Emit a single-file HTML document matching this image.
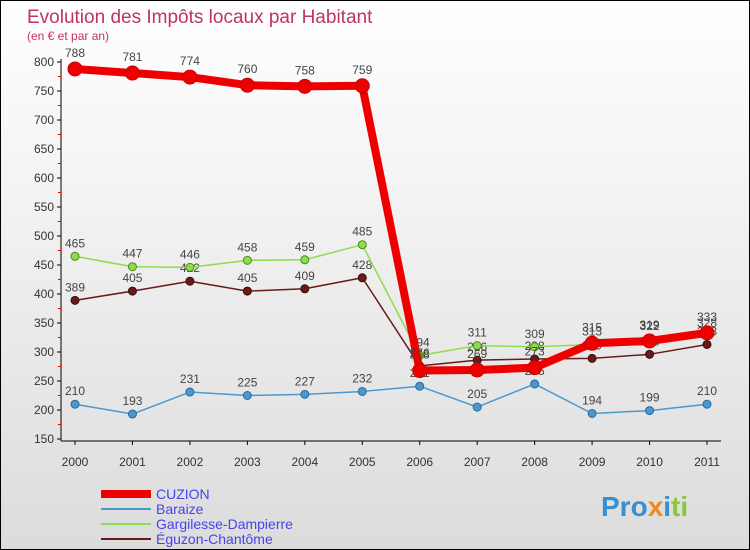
<!DOCTYPE html>
<html><head><meta charset="utf-8"><style>
body{margin:0}
#c{width:748px;height:548px;border:1px solid #000;background:linear-gradient(#fff,#dcdcdc);position:relative;font-family:"Liberation Sans",sans-serif;overflow:hidden}
</style></head><body>
<div id="c">
<svg id="s" width="748" height="548" font-family="Liberation Sans, sans-serif">
<text x="26" y="22" font-size="19" fill="#c0335f">Evolution des Impôts locaux par Habitant</text>
<text x="26" y="39" font-size="12" fill="#c0335f">(en € et par an)</text>
<text x="600" y="515" font-size="28" font-weight="bold" fill="#3a8fd0">Pro<tspan fill="#f08a1c">x</tspan><tspan fill="#3a8fd0">i</tspan><tspan fill="#8cc63f">ti</tspan></text>
</svg>
</div>
<script>
const years=[2000,2001,2002,2003,2004,2005,2006,2007,2008,2009,2010,2011];
const cuzion=[788,781,774,760,758,759,268,269,273,315,319,333];
const baraize=[210,193,231,225,227,232,241,205,245,194,199,210];
const gargilesse=[465,447,446,458,459,485,294,311,309,313,322,328];
const eguzon=[389,405,422,405,409,428,276,286,288,289,296,313];
const yTicks=[150,200,250,300,350,400,450,500,550,600,650,700,750,800];
const seriesNames=["CUZION","Baraize","Gargilesse-Dampierre","Éguzon-Chantôme"];
const NS="http://www.w3.org/2000/svg";
const s=document.getElementById('s');
const X=i=>74+i*(632/11);
const Y=v=>61+(800-v)*(377/650);
function el(t,a,p){const e=document.createElementNS(NS,t);for(const k in a)e.setAttribute(k,a[k]);(p||s).appendChild(e);return e;}
let ax=el('line',{x1:60,y1:58,x2:60,y2:440,stroke:'#000'});


let xa=el('line',{x1:60,y1:440,x2:720,y2:440,stroke:'#000'});


yTicks.forEach(v=>{
 el('line',{x1:56,y1:Y(v),x2:60,y2:Y(v),stroke:'#000'});
 if(v<800) el('line',{x1:57,y1:Y(v+25),x2:60,y2:Y(v+25),stroke:'#e00'});
 const t=el('text',{x:53,y:Y(v)+4,'font-size':12,'text-anchor':'end',fill:'#333'});
 t.textContent=v;
 
 
});
years.forEach((yr,i)=>{
 el('line',{x1:X(i),y1:440,x2:X(i),y2:444,stroke:'#000'});
 const t=el('text',{x:X(i),y:465,'font-size':12,'text-anchor':'middle',fill:'#333'});
 t.textContent=yr;
 
 
});
function series(data,color,w,r,name,dark){
 const g=el('g',{});
 
 
 el('polyline',{points:data.map((v,i)=>X(i)+','+Y(v)).join(' '),fill:'none',stroke:color,'stroke-width':w,'stroke-linejoin':'round'},g);
 data.forEach((v,i)=>{
  const c=el('circle',{cx:X(i),cy:Y(v),r:r,fill:color,stroke:dark,'stroke-width':1},g);
  
  
  const t=el('text',{x:X(i),y:Y(v)-(r+5),'font-size':12,'text-anchor':'middle',fill:'#444'},g);
  t.textContent=v;
  
  
 });
}
series(baraize,'#4a98d0',1.5,4,'baraize','#2a6a9a');
series(eguzon,'#6b1a1a',1.5,4,'eguzon','#3a0a0a');
series(gargilesse,'#8fdc4a',1.5,4,'gargilesse','#4a8a20');
series(cuzion,'#ee0000',8,7,'cuzion','#c00');
const lc=['#ee0000','#4a98d0','#8fdc4a','#6b1a1a'],lw=[8,2,2,2];
seriesNames.forEach((n,i)=>{
 const y=493+i*15;
 const g=el('g',{});
 
 
 el('line',{x1:100,y1:y,x2:150,y2:y,stroke:lc[i],'stroke-width':lw[i]},g);
 const t=el('text',{x:155,y:y+5,'font-size':14,fill:'#4444ee'},g);
 t.textContent=n;
});
</script>
</body></html>
